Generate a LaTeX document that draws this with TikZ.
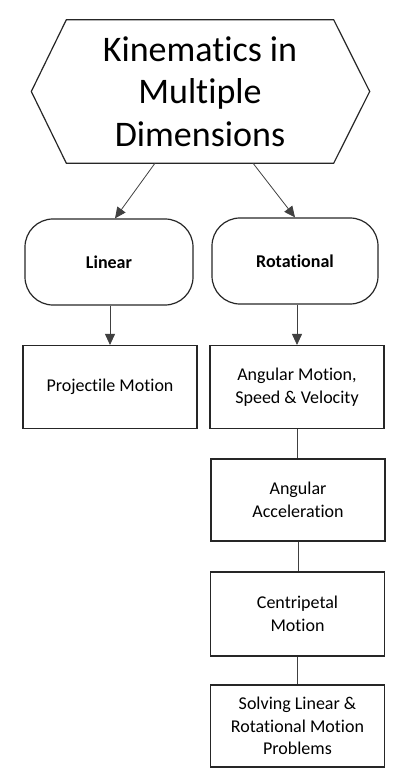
\documentclass[tikz,border=0pt]{standalone}
\usepackage{fontspec}
\setmainfont[Ligatures=NoCommon]{Carlito}
\usetikzlibrary{arrows.meta}

\tikzset{
  topic/.style={draw=black!85,line width=1.1pt,minimum width=174pt,minimum height=83pt,
    align=center,font=\fontsize{18}{22.5}\selectfont,inner sep=2pt},
  branch/.style={draw=black!85,line width=1.2pt,rounded corners=28pt,minimum height=86pt,
    align=center,font=\fontsize{18}{22}\selectfont\bfseries},
  link/.style={draw=black!75,line width=0.8pt},
  arr/.style={link,-{Triangle[length=11pt,width=10pt]}}
}

\begin{document}
\begin{tikzpicture}[x=1pt,y=-1pt]
  \useasboundingbox (0,0) rectangle (402,775);
  % title hexagon
  \node[minimum width=267pt,minimum height=143pt,align=center,
    font=\fontsize{36}{42.5}\selectfont] (title) at (200,91.5)
    {Kinematics in\\Multiple\\Dimensions};
  \draw[line width=1.2pt,black!85] (title.north west) -- (title.north east)
    -- ([xshift=36pt]title.east) -- (title.south east) -- (title.south west)
    -- ([xshift=-35pt]title.west) -- cycle;
  % branches
  \node[branch,minimum width=168pt] (lin) at (109,262) {Linear};
  \node[branch,minimum width=166pt] (rot) at (295,261) {Rotational};
  % topics
  \node[topic] (proj) at (110,387) {Projectile Motion};
  \node[topic] (ang) at (297,387) {Angular Motion,\\Speed \& Velocity};
  \node[topic,minimum height=82pt] (acc) at (298,500) {Angular\\Acceleration};
  \node[topic,minimum height=84pt] (cen) at (297.5,614) {Centripetal\\Motion};
  \node[topic,minimum height=82pt] (sol) at (297.5,726) {Solving Linear \&\\Rotational Motion\\Problems};
  % connectors
  \draw[arr] ([xshift=-45pt]title.south) -- ([xshift=6pt]lin.north);
  \draw[arr] ([xshift=53pt]title.south) -- (rot.north);
  \draw[arr] ([xshift=1pt]lin.south) -- ([xshift=1pt]lin.south |- proj.north);
  \draw[arr] ([xshift=2pt]rot.south) -- ([xshift=2pt]rot.south |- ang.north);
  \draw[link] (ang.south) -- (acc.north -| ang.south);
  \draw[link] (acc.south) -- (cen.north -| acc.south);
  \draw[link] (cen.south) -- (sol.north -| cen.south);
\end{tikzpicture}
\end{document}
